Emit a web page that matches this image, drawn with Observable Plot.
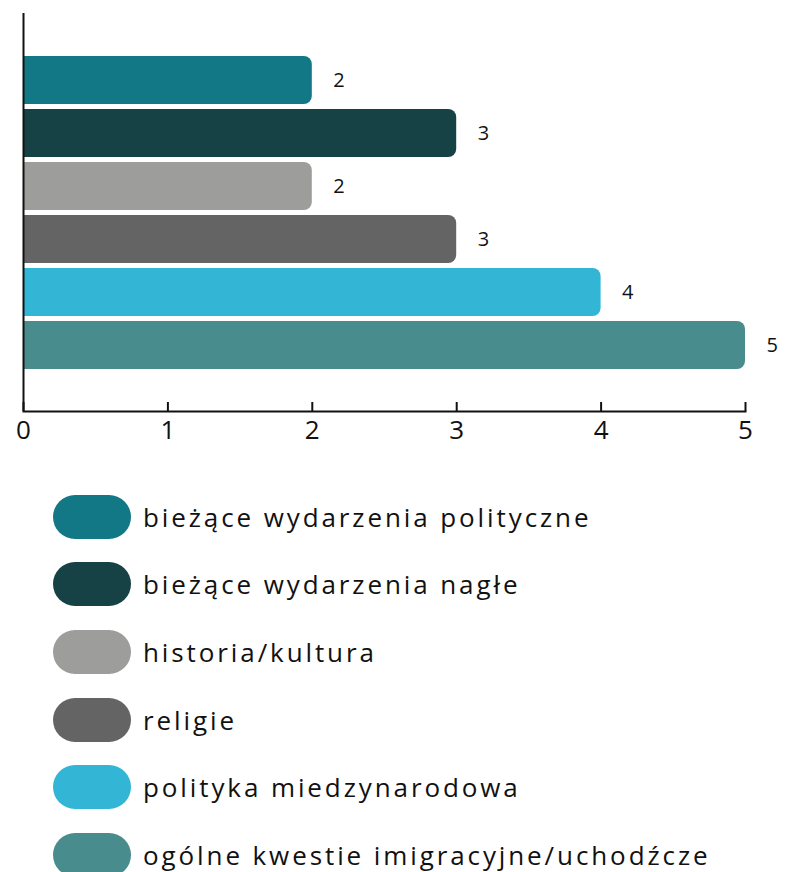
<!DOCTYPE html>
<html>
<head>
<meta charset="utf-8">
<script src="https://cdn.jsdelivr.net/npm/d3@7"></script>
<script src="https://cdn.jsdelivr.net/npm/@observablehq/plot@0.6"></script>
<style>
  body { margin: 0; background: #fff; font-family: "Open Sans", sans-serif; }
  #chart svg { display: block; }
  .legend { padding-top: 33px; }
  .row { display: flex; align-items: center; height: 67.6px; }
  .sw { width: 78px; height: 44px; border-radius: 22px; margin-left: 53px; margin-right: 12px; flex: none; }
  .lab { font-size: 26px; color: #111; white-space: nowrap; letter-spacing: 2.9px; }
</style>
</head>
<body>
<div id="chart"></div>
<div class="legend" id="legend"></div>
<script>
const categories = [
  "bieżące wydarzenia polityczne",
  "bieżące wydarzenia nagłe",
  "historia/kultura",
  "religie",
  "polityka miedzynarodowa",
  "ogólne kwestie imigracyjne/uchodźcze"
];
const values = [2, 3, 2, 3, 4, 5];
const colors = ["#137886", "#174245", "#9d9d9c", "#646464", "#33b6d6", "#488c8e"];
const xTicks = [0, 1, 2, 3, 4, 5];

const data = categories.map((c, i) => ({category: c, value: values[i], color: colors[i]}));

const chart = Plot.plot({
  width: 785,
  height: 450,
  marginLeft: 23,
  marginRight: 40,
  marginTop: 13,
  marginBottom: 39,
  style: {fontFamily: "Open Sans, sans-serif", background: "#fff"},
  x: {domain: [0, 5], axis: null},
  y: {domain: categories, axis: null, paddingInner: 0.1, paddingOuter: 0.775},
  marks: [
    Plot.barX(data, {y: "category", x: "value", fill: "color", rx: 8}),
    Plot.barX(data, {y: "category", x1: 0, x2: d => d.value / 2, fill: "color"}),
    Plot.text(data, {y: "category", x: "value", text: d => String(d.value), textAnchor: "start", dx: 21, fontSize: 20, fill: "#111"}),
    Plot.ruleX([0], {strokeWidth: 2, stroke: "#111"}),
    Plot.frame({anchor: "bottom", strokeWidth: 2, stroke: "#111"}),
    Plot.tickX(xTicks, {x: d => d, insetTop: 389, strokeWidth: 2, stroke: "#111"}),
    Plot.axisX(xTicks, {tickSize: 0, tickPadding: 9, fontSize: 26, fill: "#111", label: null, tickFormat: d => String(d)})
  ]
});
document.getElementById("chart").appendChild(chart);

const legend = document.getElementById("legend");
categories.forEach((c, i) => {
  const row = document.createElement("div");
  row.className = "row";
  const sw = document.createElement("div");
  sw.className = "sw";
  sw.style.background = colors[i];
  const lab = document.createElement("span");
  lab.className = "lab";
  lab.textContent = c;
  row.appendChild(sw);
  row.appendChild(lab);
  legend.appendChild(row);
});
</script>
</body>
</html>
